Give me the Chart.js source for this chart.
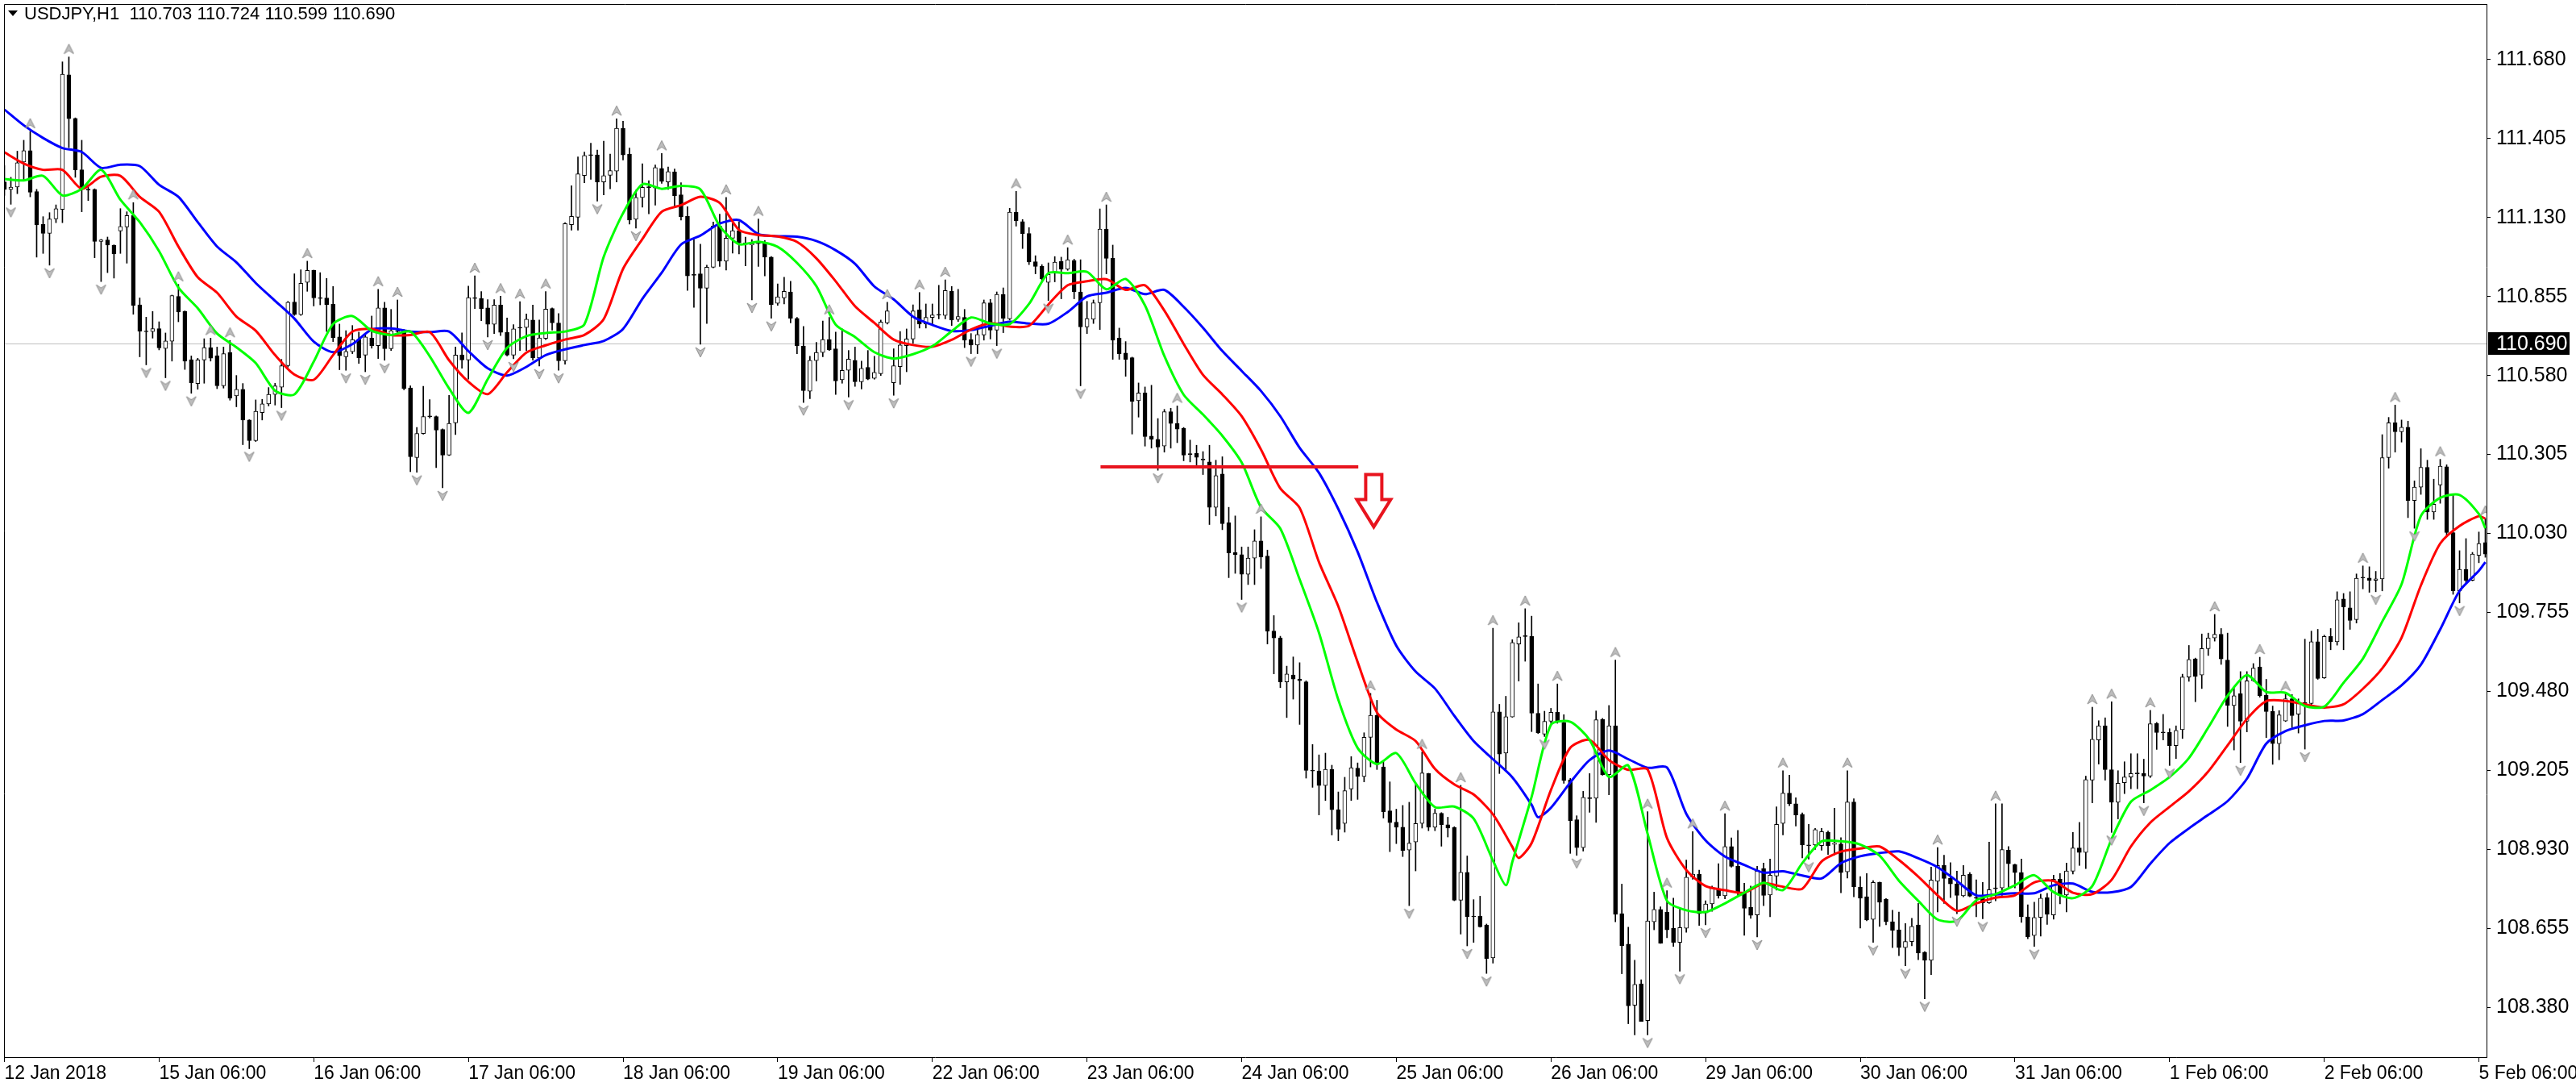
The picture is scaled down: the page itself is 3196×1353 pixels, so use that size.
<!DOCTYPE html>
<html>
<head>
<meta charset="utf-8">
<title>USDJPY,H1</title>
<script src="https://cdn.jsdelivr.net/npm/chart.js@4.4.0/dist/chart.umd.min.js"></script>
<style>
  html, body { margin: 0; padding: 0; background: #ffffff; }
  canvas { display: block; }
</style>
</head>
<body>
<canvas id="chart" width="3196" height="1353"></canvas>
<script>
// header line and current bid
var symbolTitle = 'USDJPY,H1  110.703 110.724 110.599 110.690';
var bidPrice = 110.690;

// hourly bars, index 0 = 12 Jan 06:00
var opens = [
111.254,111.228,111.236,111.323,111.363,111.220,111.106,111.075,111.125,111.158,
111.627,111.475,111.296,111.228,111.228,111.047,111.052,111.033,111.083,111.097,
111.137,110.826,110.734,110.733,110.743,110.674,110.699,110.855,110.803,110.635,
110.552,110.634,110.677,110.648,110.544,110.660,110.509,110.532,110.425,110.353,
110.451,110.481,110.514,110.539,110.614,110.836,110.792,110.904,110.946,110.850,
110.850,110.828,110.714,110.645,110.663,110.705,110.651,110.710,110.684,110.815,
110.673,110.735,110.734,110.537,110.294,110.378,110.437,110.437,110.392,110.303,
110.415,110.652,110.634,110.849,110.848,110.815,110.758,110.825,110.730,110.651,
110.747,110.747,110.773,110.641,110.709,110.813,110.763,110.631,111.105,111.131,
111.276,111.347,111.348,111.254,111.277,111.292,111.441,111.351,111.124,111.200,
111.235,111.233,111.301,111.254,111.289,111.209,111.134,110.932,110.934,110.884,
110.957,111.100,110.978,111.058,111.084,111.042,111.034,111.044,111.039,110.992,
110.831,110.850,110.871,110.779,110.682,110.525,110.632,110.660,110.705,110.673,
110.565,110.598,110.633,110.558,110.608,110.570,110.586,110.763,110.555,110.611,
110.684,110.707,110.808,110.759,110.782,110.790,110.789,110.873,110.775,110.782,
110.705,110.686,110.721,110.833,110.738,110.862,110.777,111.149,111.116,111.074,
110.976,110.960,110.904,110.936,110.977,110.950,110.980,110.871,110.749,110.776,
110.833,111.090,110.988,110.710,110.658,110.642,110.492,110.519,110.369,110.358,
110.334,110.454,110.413,110.396,110.307,110.309,110.289,110.279,110.121,110.237,
110.067,109.963,109.956,109.888,109.944,110.004,109.951,109.690,109.666,109.513,
109.537,109.523,109.513,109.205,109.203,109.152,109.209,109.068,109.020,109.140,
109.213,109.184,109.320,109.397,109.217,109.064,109.025,109.007,108.928,108.956,
109.020,109.194,109.007,109.056,109.016,109.006,108.753,108.850,108.696,108.698,
108.666,108.552,109.409,109.265,109.391,109.645,109.672,109.672,109.404,109.331,
109.376,109.407,109.371,109.172,109.033,108.936,109.108,109.108,109.383,109.190,
109.360,108.706,108.600,108.387,108.462,108.334,108.678,108.721,108.711,108.655,
108.606,108.655,108.833,108.844,108.709,108.740,108.793,108.768,108.940,108.871,
108.781,108.728,108.702,108.863,108.771,108.837,109.020,109.126,109.089,109.052,
108.945,108.945,108.943,108.990,108.947,108.949,108.852,109.095,108.798,108.765,
108.686,108.815,108.756,108.678,108.650,108.588,108.609,108.667,108.572,108.544,
108.819,108.874,108.830,108.810,108.768,108.843,108.762,108.760,108.744,108.796,
108.796,108.927,108.877,108.849,108.695,108.630,108.693,108.762,108.702,108.826,
108.771,108.854,108.935,108.919,109.171,109.311,109.360,109.207,109.094,109.162,
109.182,109.194,109.194,109.185,109.369,109.337,109.337,109.291,109.347,109.530,
109.593,109.537,109.629,109.666,109.679,109.589,109.431,109.472,109.376,109.517,
109.565,109.466,109.410,109.298,109.377,109.454,109.401,109.441,109.438,109.653,
109.527,109.671,109.653,109.802,109.771,109.730,109.877,109.875,109.867,109.872,
110.294,110.415,110.384,110.400,110.145,110.191,110.260,110.105,110.199,110.262,
110.033,109.830,109.905,109.867,109.954,109.998
];
var highs = [
111.311,111.270,111.361,111.399,111.430,111.228,111.133,111.147,111.174,111.672,
111.689,111.477,111.399,111.244,111.230,111.054,111.062,111.035,111.161,111.150,
111.182,110.850,110.783,110.803,110.767,110.728,110.860,110.897,110.805,110.648,
110.640,110.708,110.710,110.679,110.679,110.702,110.580,110.552,110.426,110.495,
110.497,110.538,110.553,110.636,110.838,110.934,110.948,110.978,110.947,110.938,
110.918,110.890,110.759,110.736,110.754,110.731,110.721,110.787,110.880,110.835,
110.810,110.843,110.740,110.544,110.399,110.542,110.496,110.439,110.394,110.511,
110.679,110.728,110.891,110.927,110.872,110.844,110.844,110.856,110.780,110.757,
110.837,110.794,110.825,110.773,110.872,110.815,110.796,111.112,111.241,111.341,
111.358,111.389,111.365,111.396,111.351,111.474,111.465,111.372,111.225,111.317,
111.258,111.313,111.353,111.306,111.299,111.251,111.168,111.053,111.037,110.964,
111.114,111.142,111.200,111.109,111.115,111.062,111.053,111.125,111.050,110.994,
110.899,110.922,110.908,110.782,110.751,110.647,110.695,110.770,110.782,110.731,
110.742,110.667,110.679,110.630,110.667,110.647,110.773,110.835,110.673,110.733,
110.742,110.826,110.869,110.829,110.829,110.894,110.913,110.890,110.880,110.810,
110.726,110.740,110.843,110.845,110.871,110.885,111.162,111.221,111.123,111.095,
110.997,110.966,110.972,110.994,110.992,111.025,110.985,110.983,110.838,110.843,
111.160,111.174,111.034,110.745,110.698,110.644,110.554,110.540,110.546,110.430,
110.462,110.466,110.474,110.399,110.355,110.337,110.315,110.337,110.285,110.297,
110.121,110.091,109.983,109.983,110.043,110.088,109.972,109.744,109.672,109.568,
109.600,109.580,109.517,109.295,109.259,109.265,109.223,109.130,109.181,109.253,
109.231,109.336,109.473,109.449,109.236,109.165,109.070,109.083,109.094,109.159,
109.269,109.195,109.070,109.058,109.042,109.009,109.153,108.907,108.755,108.767,
108.670,109.700,109.435,109.463,109.660,109.719,109.768,109.742,109.506,109.411,
109.421,109.506,109.399,109.177,109.047,109.132,109.194,109.412,109.386,109.431,
109.589,108.809,108.659,108.544,108.476,109.061,108.781,108.730,108.786,108.760,
108.728,108.893,108.992,108.858,108.751,108.802,108.880,109.054,108.970,108.996,
108.812,108.802,108.871,108.882,108.896,109.078,109.204,109.188,109.110,109.057,
109.017,109.003,109.003,108.994,109.073,108.971,109.204,109.106,108.835,108.846,
108.821,108.816,108.759,108.718,108.712,108.672,108.690,108.742,108.574,108.868,
108.936,108.910,108.884,108.854,108.874,108.849,108.824,108.815,108.955,109.089,
109.089,108.940,108.879,108.896,108.737,108.746,108.774,108.777,108.840,108.846,
108.882,108.989,109.024,109.185,109.425,109.378,109.388,109.444,109.204,109.235,
109.263,109.263,109.244,109.414,109.372,109.400,109.350,109.360,109.540,109.640,
109.596,109.680,109.683,109.748,109.699,109.683,109.493,109.549,109.549,109.577,
109.599,109.522,109.429,109.413,109.471,109.469,109.454,109.662,109.690,109.696,
109.676,109.699,109.827,109.821,109.827,109.889,109.917,109.914,109.898,110.374,
110.434,110.477,110.425,110.421,110.213,110.325,110.285,110.219,110.288,110.269,
110.166,109.970,110.012,109.964,110.035,110.082
];
var lows = [
111.207,111.176,111.213,111.259,111.202,110.992,111.005,110.964,111.112,111.112,
111.373,111.270,111.150,111.189,110.990,110.907,110.938,110.919,111.005,110.971,
110.793,110.645,110.617,110.710,110.669,110.572,110.630,110.767,110.601,110.518,
110.532,110.553,110.630,110.534,110.536,110.494,110.471,110.339,110.325,110.350,
110.425,110.474,110.477,110.468,110.609,110.789,110.789,110.873,110.822,110.826,
110.733,110.698,110.600,110.598,110.656,110.622,110.593,110.675,110.639,110.633,
110.667,110.729,110.530,110.245,110.243,110.376,110.432,110.259,110.189,110.301,
110.374,110.605,110.567,110.813,110.771,110.714,110.726,110.719,110.648,110.638,
110.667,110.667,110.633,110.613,110.705,110.738,110.598,110.619,111.086,111.086,
111.251,111.263,111.187,111.209,111.230,111.254,111.330,111.107,111.093,111.166,
111.143,111.173,111.249,111.228,111.166,111.121,110.876,110.817,110.689,110.761,
110.955,110.960,110.947,111.006,111.003,110.962,110.843,110.960,110.927,110.779,
110.824,110.829,110.763,110.656,110.486,110.499,110.561,110.645,110.667,110.514,
110.553,110.505,110.542,110.533,110.565,110.567,110.580,110.759,110.511,110.549,
110.593,110.692,110.745,110.745,110.759,110.777,110.777,110.754,110.768,110.677,
110.656,110.656,110.703,110.707,110.684,110.729,110.773,111.100,111.022,110.966,
110.934,110.910,110.841,110.906,110.847,110.946,110.847,110.544,110.726,110.761,
110.740,110.934,110.636,110.636,110.577,110.376,110.435,110.334,110.327,110.250,
110.313,110.327,110.346,110.283,110.279,110.267,110.235,110.061,110.091,110.043,
109.876,109.891,109.800,109.852,109.852,109.908,109.645,109.541,109.493,109.389,
109.453,109.365,109.178,109.146,109.050,109.100,108.980,108.960,108.990,109.100,
109.104,109.165,109.217,109.208,109.039,108.922,108.950,108.905,108.734,108.855,
109.004,108.995,108.995,108.941,108.973,108.751,108.635,108.594,108.606,108.659,
108.498,108.534,109.194,109.206,109.390,109.516,109.585,109.340,109.333,109.323,
109.369,109.369,109.160,108.916,108.909,108.924,109.059,109.024,109.188,109.120,
108.678,108.497,108.323,108.284,108.331,108.284,108.650,108.603,108.622,108.592,
108.506,108.641,108.826,108.665,108.667,108.714,108.760,108.758,108.868,108.770,
108.631,108.690,108.625,108.734,108.695,108.788,108.980,109.082,109.011,108.900,
108.896,108.930,108.927,108.912,108.910,108.779,108.830,108.765,108.656,108.681,
108.606,108.662,108.667,108.588,108.560,108.525,108.594,108.546,108.410,108.494,
108.712,108.742,108.762,108.706,108.765,108.765,108.695,108.688,108.742,108.751,
108.770,108.796,108.796,108.676,108.619,108.592,108.628,108.669,108.687,108.740,
108.712,108.844,108.874,108.863,109.092,109.227,109.171,108.989,109.036,109.124,
109.141,109.141,109.092,109.180,109.278,109.311,109.222,109.246,109.316,109.515,
109.444,109.490,109.605,109.655,109.574,109.358,109.276,109.232,109.339,109.515,
109.460,109.319,109.226,109.242,109.375,109.354,109.335,109.279,109.433,109.522,
109.525,109.625,109.641,109.625,109.696,109.718,109.837,109.825,109.827,109.830,
110.257,110.313,110.348,110.085,110.048,110.166,110.079,110.079,110.135,110.020,
109.818,109.788,109.858,109.865,109.928,109.947
];
var closes = [
111.228,111.236,111.321,111.363,111.218,111.104,111.075,111.125,111.161,111.629,
111.474,111.296,111.228,111.226,111.047,111.052,111.034,111.003,111.099,111.137,
110.824,110.734,110.732,110.743,110.676,110.700,110.858,110.801,110.630,110.555,
110.634,110.677,110.640,110.544,110.656,110.501,110.532,110.425,110.353,110.455,
110.481,110.514,110.544,110.614,110.835,110.792,110.901,110.946,110.850,110.848,
110.826,110.712,110.649,110.664,110.705,110.642,110.714,110.684,110.815,110.673,
110.736,110.733,110.535,110.297,110.378,110.437,110.436,110.390,110.303,110.413,
110.651,110.634,110.851,110.848,110.813,110.758,110.825,110.730,110.651,110.742,
110.745,110.776,110.641,110.711,110.811,110.763,110.631,111.109,111.134,111.282,
111.346,111.346,111.254,111.276,111.293,111.441,111.348,111.121,111.200,111.235,
111.234,111.304,111.256,111.290,111.206,111.133,110.927,110.929,110.884,110.957,
111.100,110.978,111.058,111.084,111.042,111.037,111.039,111.039,110.992,110.827,
110.854,110.873,110.779,110.684,110.527,110.633,110.660,110.705,110.670,110.561,
110.598,110.637,110.558,110.605,110.567,110.591,110.766,110.805,110.614,110.686,
110.707,110.805,110.759,110.782,110.791,110.791,110.876,110.773,110.785,110.703,
110.686,110.723,110.833,110.738,110.862,110.779,111.149,111.118,111.074,110.975,
110.960,110.916,110.932,110.975,110.950,110.983,110.871,110.749,110.778,110.833,
111.090,110.988,110.703,110.656,110.636,110.490,110.519,110.367,110.358,110.331,
110.454,110.413,110.393,110.303,110.305,110.295,110.286,110.121,110.231,110.064,
109.962,109.956,109.888,109.944,110.004,109.948,109.690,109.666,109.513,109.541,
109.523,109.517,109.205,109.203,109.152,109.209,109.068,109.000,109.134,109.214,
109.184,109.320,109.397,109.225,109.061,109.023,109.007,108.926,108.952,109.020,
109.196,109.007,109.056,109.016,109.004,108.753,108.850,108.695,108.695,108.660,
108.550,109.409,109.262,109.392,109.650,109.670,109.671,109.404,109.336,109.376,
109.407,109.376,109.170,109.030,108.936,109.111,109.107,109.381,109.190,109.360,
108.704,108.594,108.385,108.460,108.331,108.681,108.721,108.603,108.650,108.606,
108.658,108.833,108.844,108.706,108.740,108.798,108.768,108.940,108.871,108.779,
108.725,108.700,108.854,108.770,108.840,109.017,109.126,109.089,109.050,108.945,
108.943,108.999,108.992,108.943,108.952,108.849,109.095,108.800,108.760,108.684,
108.815,108.746,108.678,108.648,108.588,108.609,108.662,108.569,108.544,108.823,
108.874,108.829,108.810,108.770,108.840,108.767,108.760,108.744,108.790,108.793,
108.929,108.880,108.849,108.695,108.625,108.693,108.760,108.704,108.826,108.771,
108.855,108.935,108.919,109.173,109.313,109.360,109.208,109.094,109.160,109.182,
109.194,109.193,109.185,109.367,109.337,109.336,109.291,109.344,109.530,109.591,
109.533,109.629,109.666,109.679,109.593,109.431,109.465,109.376,109.517,109.561,
109.465,109.410,109.298,109.398,109.454,109.396,109.443,109.438,109.653,109.525,
109.671,109.653,109.799,109.774,109.727,109.874,109.875,109.867,109.872,110.294,
110.415,110.384,110.400,110.145,110.191,110.260,110.105,110.132,110.264,110.033,
109.830,109.905,109.867,109.958,109.995,109.958
];

// moving averages: [bar, price]
var greenMA = [[0,111.264],[3,111.259],[6,111.275],[9,111.207],[12,111.230],[15,111.296],[18,111.192],[21,111.114],[24,111.013],[27,110.886],[30,110.814],[33,110.726],[36,110.678],[39,110.623],[42,110.527],[45,110.514],[48,110.628],[51,110.759],[54,110.787],[57,110.736],[60,110.721],[63,110.733],[66,110.647],[69,110.535],[72,110.450],[75,110.567],[78,110.676],[81,110.717],[84,110.728],[87,110.733],[90,110.758],[93,110.993],[96,111.145],[99,111.246],[102,111.230],[105,111.240],[108,111.228],[111,111.100],[114,111.037],[117,111.046],[120,111.028],[123,110.972],[126,110.891],[129,110.757],[132,110.714],[135,110.661],[138,110.639],[141,110.654],[144,110.682],[147,110.734],[150,110.782],[153,110.761],[156,110.759],[159,110.829],[162,110.936],[165,110.936],[168,110.941],[171,110.880],[174,110.916],[177,110.824],[180,110.648],[183,110.513],[186,110.444],[189,110.370],[192,110.277],[195,110.121],[198,110.047],[201,109.870],[204,109.684],[207,109.451],[210,109.283],[213,109.227],[216,109.265],[219,109.160],[222,109.077],[225,109.079],[228,109.037],[231,108.891],[233,108.805],[234,108.886],[237,109.113],[240,109.364],[243,109.374],[246,109.311],[249,109.182],[252,109.222],[255,108.984],[258,108.751],[261,108.718],[264,108.712],[267,108.742],[270,108.779],[273,108.814],[276,108.788],[279,108.882],[282,108.958],[285,108.958],[288,108.947],[291,108.908],[294,108.821],[297,108.751],[300,108.686],[303,108.681],[306,108.753],[309,108.774],[312,108.805],[315,108.840],[318,108.781],[321,108.760],[324,108.802],[327,108.966],[330,109.096],[333,109.136],[336,109.182],[339,109.248],[342,109.354],[345,109.465],[348,109.537],[351,109.478],[354,109.475],[357,109.429],[360,109.427],[363,109.510],[366,109.594],[369,109.723],[372,109.853],[375,110.091],[378,110.154],[381,110.164],[384,110.098],[385,110.048]];
var redMA = [[0,111.357],[3,111.318],[6,111.296],[9,111.296],[12,111.230],[15,111.272],[18,111.275],[21,111.202],[24,111.150],[27,111.029],[30,110.922],[33,110.868],[36,110.785],[39,110.736],[42,110.651],[45,110.583],[48,110.565],[51,110.651],[54,110.733],[57,110.742],[60,110.721],[63,110.721],[66,110.731],[69,110.633],[72,110.558],[75,110.515],[78,110.591],[81,110.660],[84,110.685],[87,110.705],[90,110.721],[93,110.776],[96,110.951],[99,111.055],[102,111.150],[105,111.173],[108,111.202],[111,111.181],[114,111.087],[117,111.069],[120,111.064],[123,111.045],[126,110.988],[129,110.908],[132,110.821],[135,110.763],[138,110.705],[141,110.686],[144,110.680],[147,110.704],[150,110.740],[153,110.762],[156,110.750],[159,110.753],[162,110.827],[165,110.894],[168,110.908],[171,110.915],[174,110.878],[177,110.894],[180,110.806],[183,110.690],[186,110.582],[189,110.514],[192,110.438],[195,110.322],[198,110.187],[201,110.119],[204,109.930],[207,109.776],[210,109.582],[213,109.407],[216,109.347],[219,109.307],[222,109.210],[225,109.156],[228,109.121],[231,109.052],[234,108.939],[235,108.900],[237,108.952],[240,109.137],[243,109.284],[246,109.311],[249,109.241],[252,109.207],[255,109.208],[258,108.970],[261,108.858],[264,108.802],[267,108.788],[270,108.779],[273,108.812],[276,108.800],[279,108.793],[282,108.888],[285,108.922],[288,108.933],[291,108.940],[294,108.893],[297,108.835],[300,108.770],[303,108.716],[306,108.742],[309,108.762],[312,108.770],[315,108.815],[318,108.820],[321,108.779],[324,108.774],[327,108.824],[330,108.940],[333,109.023],[336,109.078],[339,109.132],[342,109.201],[345,109.292],[348,109.384],[351,109.446],[354,109.447],[357,109.435],[360,109.424],[363,109.435],[366,109.489],[369,109.560],[372,109.667],[375,109.849],[378,109.995],[381,110.056],[384,110.090],[385,110.082]];
var blueMA = [[0,111.506],[3,111.451],[6,111.407],[9,111.372],[12,111.358],[15,111.303],[18,111.314],[21,111.309],[24,111.244],[27,111.202],[30,111.114],[33,111.029],[36,110.974],[39,110.902],[42,110.840],[45,110.778],[48,110.698],[51,110.661],[54,110.689],[57,110.740],[60,110.744],[63,110.733],[66,110.731],[69,110.733],[72,110.665],[75,110.605],[78,110.580],[81,110.610],[84,110.651],[87,110.671],[90,110.686],[93,110.700],[96,110.742],[99,110.847],[102,110.938],[105,111.036],[108,111.067],[111,111.109],[114,111.121],[117,111.072],[120,111.065],[123,111.063],[126,111.048],[129,111.016],[132,110.969],[135,110.890],[138,110.845],[141,110.785],[144,110.756],[147,110.735],[150,110.738],[153,110.753],[156,110.767],[159,110.761],[162,110.760],[165,110.801],[168,110.855],[171,110.868],[174,110.885],[177,110.863],[180,110.878],[183,110.819],[186,110.746],[189,110.665],[192,110.596],[195,110.526],[198,110.438],[201,110.328],[204,110.241],[207,110.115],[210,109.966],[213,109.790],[216,109.639],[219,109.549],[222,109.490],[225,109.395],[228,109.307],[231,109.244],[234,109.181],[237,109.085],[238,109.042],[240,109.075],[243,109.163],[246,109.241],[249,109.274],[252,109.244],[255,109.214],[258,109.215],[261,109.054],[264,108.961],[267,108.905],[270,108.876],[273,108.849],[276,108.854],[279,108.839],[282,108.829],[285,108.882],[288,108.906],[291,108.917],[294,108.923],[297,108.899],[300,108.868],[303,108.820],[306,108.770],[309,108.773],[312,108.777],[315,108.777],[318,108.805],[321,108.811],[324,108.782],[327,108.781],[330,108.799],[333,108.880],[336,108.952],[339,109.003],[342,109.050],[345,109.098],[348,109.176],[351,109.298],[354,109.342],[357,109.362],[360,109.377],[363,109.379],[366,109.401],[369,109.450],[372,109.501],[375,109.573],[378,109.696],[381,109.830],[384,109.900],[385,109.930]];

// fractal marks seen on the chart (bar numbers)
var upFractals = [4,10,20,27,32,35,47,58,61,73,77,80,84,95,102,112,117,128,137,142,146,157,165,171,182,195,212,220,226,231,236,241,250,255,258,262,267,276,286,300,309,324,327,333,343,350,354,366,371,378,385];
var downFractals = [1,7,15,22,25,29,38,43,53,56,59,64,68,75,79,83,86,92,98,108,116,119,124,131,138,150,154,162,167,179,192,218,227,230,239,244,255,260,264,272,280,290,295,298,303,307,315,327,332,336,347,357,368,374,381];

// axes
var xTickBars = [0,24,48,72,96,120,144,168,192,216,240,264,288,312,336,360,384];
var xTickLabels = ['12 Jan 2018','15 Jan 06:00','16 Jan 06:00','17 Jan 06:00','18 Jan 06:00','19 Jan 06:00','22 Jan 06:00','23 Jan 06:00','24 Jan 06:00','25 Jan 06:00','26 Jan 06:00','29 Jan 06:00','30 Jan 06:00','31 Jan 06:00','1 Feb 06:00','2 Feb 06:00','5 Feb 06:00'];
var yTickValues = [108.380,108.655,108.930,109.205,109.480,109.755,110.030,110.305,110.580,110.855,111.130,111.405,111.680];

// hand drawn objects
var levelLine = { from: 170.1, to: 210.1, price: 110.262 };
var arrowMark = { bar: 212.5, top: 110.235, neck: 110.148, tip: 110.053 };

var FONT = "'Liberation Sans', Arial, sans-serif";
Chart.defaults.font.family = FONT;
Chart.defaults.font.size = 23;
Chart.defaults.color = '#000000';

var wickData = [], bodyData = [], bodyFill = [];
for (var i = 0; i < opens.length; i++) {
    wickData.push({ x: i, y: [lows[i], highs[i]] });
    bodyData.push({ x: i, y: [opens[i], closes[i]] });
    var flat = Math.abs(closes[i] - opens[i]) < 0.004;
    bodyFill.push(closes[i] > opens[i] && !flat ? '#ffffff' : '#000000');
}

function toPoints(pairs) {
    return pairs.map(function (p) { return { x: p[0], y: p[1] }; });
}

function makeFractalIcon(up) {
    var c = document.createElement('canvas');
    c.width = 14; c.height = 44;
    var g = c.getContext('2d');
    var cy = up ? 12 : 32;
    g.beginPath();
    if (up) {
        g.moveTo(7, cy - 6); g.lineTo(13, cy + 6); g.lineTo(7, cy + 2); g.lineTo(1, cy + 6);
    } else {
        g.moveTo(7, cy + 6); g.lineTo(13, cy - 6); g.lineTo(7, cy - 2); g.lineTo(1, cy - 6);
    }
    g.closePath();
    g.fillStyle = '#bdbdbd';
    g.fill();
    g.strokeStyle = '#8e8e8e';
    g.lineWidth = 1;
    g.stroke();
    return c;
}

var upIcon = makeFractalIcon(true);
var downIcon = makeFractalIcon(false);

var chartDecor = {
    id: 'chartDecor',
    beforeDatasetsDraw: function (chart) {
        var ctx = chart.ctx, a = chart.chartArea;
        var yb = Math.round(chart.scales.y.getPixelForValue(bidPrice)) + 0.5;
        ctx.save();
        ctx.strokeStyle = '#c0c0c0';
        ctx.lineWidth = 1;
        ctx.beginPath();
        ctx.moveTo(a.left, yb);
        ctx.lineTo(a.right, yb);
        ctx.stroke();
        ctx.restore();
    },
    afterDraw: function (chart) {
        var ctx = chart.ctx, a = chart.chartArea;
        var xs = chart.scales.x, ys = chart.scales.y;
        ctx.save();

        // frame, left and top sides
        ctx.strokeStyle = '#000000';
        ctx.lineWidth = 1;
        ctx.beginPath();
        ctx.moveTo(a.left + 0.5, a.bottom);
        ctx.lineTo(a.left + 0.5, a.top + 0.5);
        ctx.lineTo(a.right, a.top + 0.5);
        ctx.stroke();

        // down arrow drawn by hand on the chart
        var cx = xs.getPixelForValue(arrowMark.bar);
        var yTop = ys.getPixelForValue(arrowMark.top);
        var yNeck = ys.getPixelForValue(arrowMark.neck);
        var yTip = ys.getPixelForValue(arrowMark.tip);
        ctx.beginPath();
        ctx.moveTo(cx - 10, yTop);
        ctx.lineTo(cx + 10, yTop);
        ctx.lineTo(cx + 10, yNeck);
        ctx.lineTo(cx + 21, yNeck);
        ctx.lineTo(cx, yTip);
        ctx.lineTo(cx - 21, yNeck);
        ctx.lineTo(cx - 10, yNeck);
        ctx.closePath();
        ctx.fillStyle = '#ffffff';
        ctx.fill();
        ctx.strokeStyle = '#e8141e';
        ctx.lineWidth = 4;
        ctx.stroke();

        // bid price box on the axis
        var yb = Math.round(ys.getPixelForValue(bidPrice));
        ctx.fillStyle = '#000000';
        ctx.fillRect(a.right + 2, yb - 14, 101, 28);
        ctx.fillStyle = '#ffffff';
        ctx.font = '25px ' + FONT;
        ctx.textAlign = 'left';
        ctx.textBaseline = 'middle';
        ctx.fillText(bidPrice.toFixed(3), a.right + 12, yb + 1);

        // header
        ctx.fillStyle = '#000000';
        ctx.beginPath();
        ctx.moveTo(10, 13); ctx.lineTo(22, 13); ctx.lineTo(16, 20);
        ctx.closePath();
        ctx.fill();
        ctx.font = '22px ' + FONT;
        ctx.fillText(symbolTitle, 30, 18);
        ctx.restore();
    }
};

var ctx = document.getElementById('chart');

var priceChart = new Chart(ctx, {
    type: 'bar',
    data: {
        datasets: [
            {
                type: 'line',
                label: 'level',
                data: [{ x: levelLine.from, y: levelLine.price }, { x: levelLine.to, y: levelLine.price }],
                borderColor: '#e8141e',
                borderWidth: 4,
                pointRadius: 0,
                order: 0
            },
            {
                type: 'line',
                label: 'fractal up',
                data: upFractals.map(function (b) { return { x: b, y: highs[b] }; }),
                showLine: false,
                pointStyle: upIcon,
                pointRadius: 3,
                order: 1
            },
            {
                type: 'line',
                label: 'fractal down',
                data: downFractals.map(function (b) { return { x: b, y: lows[b] }; }),
                showLine: false,
                pointStyle: downIcon,
                pointRadius: 3,
                order: 1
            },
            {
                type: 'line',
                label: 'green',
                data: toPoints(greenMA),
                borderColor: '#00ff00',
                borderWidth: 3,
                pointRadius: 0,
                tension: 0.25,
                order: 2
            },
            {
                type: 'line',
                label: 'red',
                data: toPoints(redMA),
                borderColor: '#ff0000',
                borderWidth: 3,
                pointRadius: 0,
                tension: 0.25,
                order: 2
            },
            {
                type: 'line',
                label: 'blue',
                data: toPoints(blueMA),
                borderColor: '#0000ff',
                borderWidth: 3,
                pointRadius: 0,
                tension: 0.25,
                order: 2
            },
            {
                label: 'body',
                data: bodyData,
                backgroundColor: bodyFill,
                borderColor: '#000000',
                borderWidth: 1,
                borderSkipped: false,
                barThickness: 5,
                minBarLength: 1,
                grouped: false,
                order: 3
            },
            {
                label: 'wick',
                data: wickData,
                backgroundColor: '#000000',
                borderWidth: 0,
                barThickness: 1,
                grouped: false,
                order: 4
            }
        ]
    },
    options: {
        responsive: false,
        animation: false,
        devicePixelRatio: 1,
        layout: { padding: { top: 2, left: 3, right: 0, bottom: 0 } },
        plugins: {
            legend: { display: false },
            tooltip: { enabled: false },
            title: { display: false }
        },
        scales: {
            x: {
                type: 'linear',
                position: 'bottom',
                min: -0.0625,
                max: 385.1875,
                offset: false,
                bounds: 'data',
                grid: { display: true, offset: false, drawOnChartArea: false, drawTicks: true, tickLength: 6, color: '#000000' },
                border: { display: true, color: '#000000', width: 1 },
                afterBuildTicks: function (axis) {
                    axis.ticks = xTickBars.map(function (v) { return { value: v }; });
                },
                afterFit: function (axis) {
                    axis.height = 42;
                    axis.paddingLeft = 0;
                    axis.paddingRight = 0;
                },
                ticks: {
                    autoSkip: false,
                    maxRotation: 0,
                    minRotation: 0,
                    align: 'start',
                    padding: 1,
                    font: { size: 23 },
                    callback: function (v) {
                        var k = xTickBars.indexOf(v);
                        return k >= 0 ? xTickLabels[k] : '';
                    }
                }
            },
            y: {
                type: 'linear',
                position: 'right',
                min: 108.2066,
                max: 111.8733,
                bounds: 'data',
                grid: { display: true, drawOnChartArea: false, drawTicks: true, tickLength: 5, color: '#000000' },
                border: { display: true, color: '#000000', width: 1 },
                afterBuildTicks: function (axis) {
                    axis.ticks = yTickValues.map(function (v) { return { value: v }; });
                },
                afterFit: function (axis) {
                    axis.width = 111;
                    axis.paddingTop = 0;
                    axis.paddingBottom = 0;
                },
                ticks: {
                    padding: 7,
                    font: { size: 25 },
                    callback: function (v) { return Number(v).toFixed(3); }
                }
            }
        }
    },
    plugins: [chartDecor]
});
</script>
</body>
</html>
